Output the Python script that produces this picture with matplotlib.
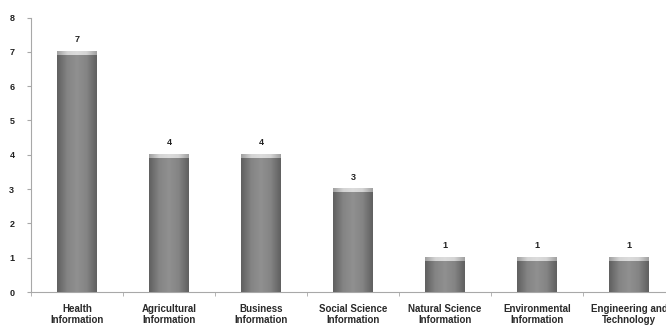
import numpy as np
import matplotlib
matplotlib.use('Agg')
import matplotlib.pyplot as plt
from matplotlib.ticker import FixedLocator
from matplotlib.colors import LinearSegmentedColormap

# Chart data
categories = ['Health\nInformation', 'Agricultural\nInformation',
              'Business\nInformation', 'Social Science\nInformation',
              'Natural Science\nInformation', 'Environmental\nInformation',
              'Engineering and\nTechnology']
values = [7, 4, 4, 3, 1, 1, 1]
y_ticks = [0, 1, 2, 3, 4, 5, 6, 7, 8]

plt.rcParams['font.family'] = ['Liberation Sans', 'DejaVu Sans']

fig = plt.figure(figsize=(6.66, 3.26), dpi=100)
# axis runs past the right edge of the picture, as in the reference
ax = fig.add_axes([31 / 666, 34 / 326, 644 / 666, 274.5 / 326])

x = np.arange(len(values))
width = 0.43

# Bars with a horizontal shading, lighter in the middle
shade = LinearSegmentedColormap.from_list(
    'shade', ['#606060', '#848484', '#909090', '#848484', '#606060'])
cap = LinearSegmentedColormap.from_list(
    'cap', ['#a0a0a0', '#d4d4d4', '#dcdcdc', '#d4d4d4', '#a0a0a0'])
grad = np.linspace(0, 1, 64).reshape(1, -1)
bars = ax.bar(x, values, width=width, color='#7e7e7e', edgecolor='none', zorder=2)
for b in bars:
    x0, y0 = b.get_x(), b.get_y()
    w, h = b.get_width(), b.get_height()
    ax.imshow(grad, cmap=shade, aspect='auto', extent=(x0, x0 + w, y0, y0 + h),
              zorder=3, interpolation='bicubic')
    # light cap on top
    ax.imshow(grad, cmap=cap, aspect='auto',
              extent=(x0, x0 + w, y0 + h - 0.09, y0 + h), zorder=4,
              interpolation='bicubic')

# Value labels
for xi, v in zip(x, values):
    ax.text(xi, v + 0.22, str(v), ha='center', va='bottom', fontsize=6.5,
            fontweight='bold', color='#222222')

ax.set_xlim(-0.5, len(values) - 0.5)
ax.set_ylim(0, 8)
ax.set_yticks(y_ticks)
ax.set_yticklabels([str(t) for t in y_ticks], fontsize=6.5, fontweight='bold')

ax.set_xticks(x)
ax.set_xticklabels(categories, fontsize=7, fontweight='bold', linespacing=1.05)
ax.xaxis.set_minor_locator(FixedLocator(np.arange(-0.5, len(values), 1.0)))
ax.tick_params(axis='x', which='major', length=0, pad=9, colors='#2a2a2a')
ax.tick_params(axis='x', which='minor', length=3, direction='out', color='#a8a8a8')
ax.tick_params(axis='y', length=3, direction='out', color='#a8a8a8', pad=9,
               labelcolor='#222222')

for side in ['top', 'right']:
    ax.spines[side].set_visible(False)
for side in ['left', 'bottom']:
    ax.spines[side].set_color('#a8a8a8')
    ax.spines[side].set_linewidth(0.8)

plt.savefig('out.png', dpi=100)
plt.close()
